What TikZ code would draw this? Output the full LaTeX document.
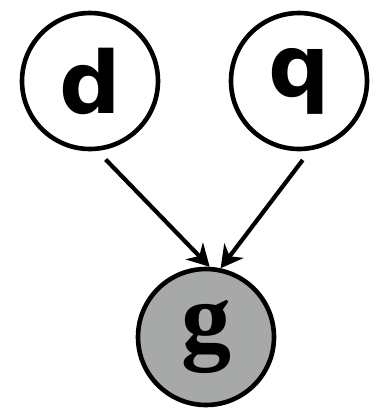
\documentclass[tikz,border=0pt]{standalone}
\usepackage{fontspec}
\newfontfamily\labelsans{DejaVu Sans}
\newfontfamily\labelserif{Liberation Serif}
\usetikzlibrary{arrows.meta}
\definecolor{obsgray}{RGB}{166,169,167}
\tikzset{
  var/.style={circle, draw=black, line width=4.6pt, minimum size=136pt, inner sep=0pt, fill=white},
  obs/.style={var, fill=obsgray},
  edge/.style={line width=4.2pt, -{Stealth[length=22pt, width=24pt, inset=7pt]}, shorten <=12pt}
}
\begin{document}
\begin{tikzpicture}[x=1pt, y=-1pt]
\useasboundingbox (0,0) rectangle (383,410);
\node[var] (d) at (90,81) {\labelsans\fontsize{86}{86}\selectfont\bfseries d};
\node[var] (q) at (299,81) {\labelsans\fontsize{86}{86}\selectfont\bfseries q};
\node[obs] (g) at (206,337) {\labelserif\fontsize{100}{100}\selectfont\bfseries g};
\draw[edge] (d.-84) -- (g.87);
\draw[edge] (q.-81) -- (g.78);
\end{tikzpicture}
\end{document}
